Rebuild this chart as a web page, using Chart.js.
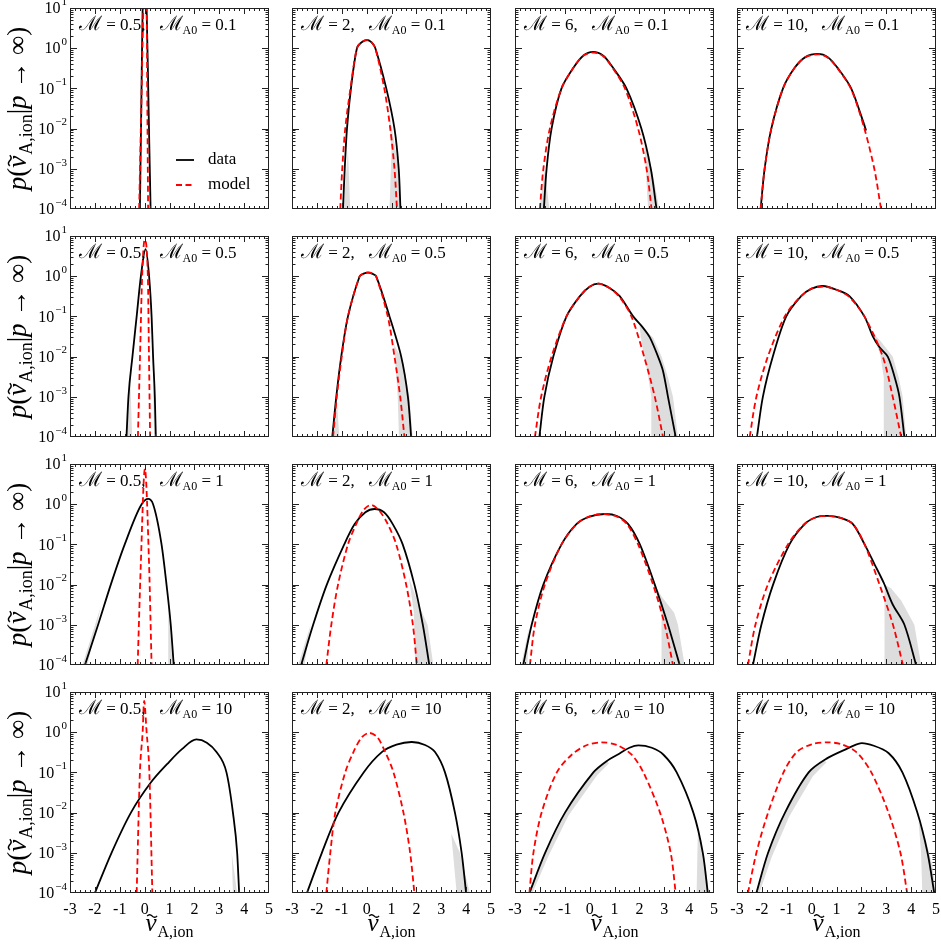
<!DOCTYPE html>
<html lang="en">
<head>
    <meta charset="UTF-8">
    <title>p(v_A,ion | p → ∞)</title>
    <script src="https://cdn.jsdelivr.net/npm/chart.js@4"></script>
    <style>
        body { margin: 0; background: #fff; }
        #grid { position: relative; width: 941px; height: 944px; }
        #grid canvas { position: absolute; }
    </style>
</head>
<body>
    <div id="grid"></div>

    <script>
        // panel labels
        const machs = ['0.5', '2', '6', '10'];
        const alfvenMachs = ['0.1', '0.5', '1', '10'];
        const xTicks = [-3, -2, -1, 0, 1, 2, 3, 4, 5];
        const yDecades = [-4, -3, -2, -1, 0, 1];

        // M_A0 = 0.1
        const data_05_01 = [[-0.19,1e-4],[-0.135,0.03],[-0.08,10],[0.0,40],[0.08,10],[0.16,0.03],[0.24,1e-4]];
        const model_05_01 = [[-0.22,1e-4],[-0.135,0.03],[-0.05,10],[0.01,40],[0.08,10],[0.11,0.03],[0.14,1e-4]];
        const band_05_01 = [];
        const data_2_01 = [[-0.95,1e-4],[-0.88,1e-3],[-0.79,1e-2],[-0.63,0.1],[-0.39,1],[-0.2,1.4],[0.02,1.6],[0.2,1.4],[0.35,1],[0.79,0.1],[1.12,1e-2],[1.29,1e-3],[1.36,1e-4]];
        const model_2_01 = [[-1.06,1e-4],[-0.98,1e-3],[-0.86,1e-2],[-0.65,0.1],[-0.39,1],[-0.2,1.42],[0.02,1.62],[0.2,1.4],[0.35,1],[0.71,0.1],[0.95,1e-2],[1.12,1e-3],[1.22,1e-4]];
        const band_2_01 = [[[-0.93,1e-4],[-0.75,3e-3],[-0.66,1e-4]], [[0.85,0.04],[1.1,5e-3],[1.3,1e-3],[1.32,1e-4],[0.92,1e-4],[1.0,3e-3]]];
        const data_6_01 = [[-1.84,1e-4],[-1.73,1e-3],[-1.53,1e-2],[-1.13,0.1],[-0.66,0.32],[-0.26,0.65],[0.14,0.81],[0.55,0.65],[0.95,0.32],[1.48,0.1],[2.08,1e-2],[2.46,1e-3],[2.69,1e-4]];
        const model_6_01 = [[-2.0,1e-4],[-1.86,1e-3],[-1.6,1e-2],[-1.13,0.1],[-0.66,0.32],[-0.26,0.65],[0.18,0.78],[0.55,0.63],[0.93,0.32],[1.42,0.1],[1.95,1e-2],[2.29,1e-3],[2.49,1e-4]];
        const band_6_01 = [[[-2.02,1e-4],[-1.8,1e-3],[-1.62,1e-4]], [[2.2,4e-3],[2.5,1e-3],[2.8,1e-4],[2.35,1e-4]]];
        const data_10_01 = [[-2.05,1e-4],[-1.89,1e-3],[-1.62,1e-2],[-1.15,0.1],[-0.69,0.32],[-0.25,0.6],[0.25,0.72],[0.65,0.6],[1.05,0.32],[1.59,0.1],[2.19,0.009]];
        const model_10_01 = [[-2.05,1e-4],[-1.89,1e-3],[-1.62,1e-2],[-1.15,0.1],[-0.69,0.32],[-0.25,0.6],[0.3,0.7],[0.65,0.58],[1.05,0.31],[1.59,0.095],[2.12,1e-2],[2.52,1e-3],[2.79,1e-4]];
        const band_10_01 = [[[1.9,0.03],[2.2,0.012],[2.15,0.01]]];

        // M_A0 = 0.5
        const data_05_05 = [[-0.73,1e-4],[-0.65,1e-3],[-0.49,1e-2],[-0.32,0.1],[-0.15,1],[0.04,4.7],[0.18,1],[0.28,0.1],[0.34,1e-2],[0.41,1e-3],[0.45,1e-4]];
        const model_05_05 = [[-0.27,1e-4],[-0.185,1e-2],[-0.1,1],[0.0,8],[0.13,1],[0.175,1e-2],[0.22,1e-4]];
        const band_05_05 = [[[-0.76,1e-4],[-0.58,3e-3],[-0.5,1e-4]], [[0.33,3e-3],[0.48,1e-4],[0.38,1e-4]]];
        const data_2_05 = [[-1.38,1e-4],[-1.22,1e-3],[-1.02,1e-2],[-0.75,0.1],[-0.28,1],[-0.12,1.16],[0.05,1.23],[0.22,1.16],[0.38,1],[0.92,0.1],[1.39,1e-2],[1.66,1e-3],[1.79,1e-4]];
        const model_2_05 = [[-1.35,1e-4],[-1.2,1e-3],[-1.0,1e-2],[-0.75,0.1],[-0.28,1],[-0.1,1.18],[0.07,1.25],[0.23,1.17],[0.38,1],[0.85,0.1],[1.12,1e-2],[1.35,1e-3],[1.52,1e-4]];
        const band_2_05 = [[[-1.42,1e-4],[-1.2,1e-3],[-1.1,1e-4]], [[1.1,2e-2],[1.45,8e-3],[1.72,1e-3],[1.85,1e-4],[1.3,1e-4],[1.25,1e-3]]];
        const data_6_05 = [[-2.02,1e-4],[-1.82,1e-3],[-1.46,1e-2],[-0.93,0.1],[-0.39,0.32],[0.0,0.55],[0.37,0.65],[0.8,0.51],[1.21,0.32],[1.75,0.1],[2.15,0.052],[2.42,0.03],[2.75,1e-2],[2.95,4.4e-3],[3.15,1e-3],[3.46,1e-4]];
        const model_6_05 = [[-2.2,1e-4],[-1.95,1e-3],[-1.53,1e-2],[-0.93,0.1],[-0.39,0.32],[0.0,0.55],[0.37,0.65],[0.8,0.51],[1.21,0.3],[1.68,0.1],[2.19,1e-2],[2.62,1e-3],[2.95,1e-4]];
        const band_6_05 = [[[2.0,0.06],[2.55,0.03],[2.89,1e-2],[3.15,3e-3],[3.35,1e-3],[3.55,1e-4],[2.48,1e-4],[2.48,1e-3],[2.3,5e-3],[2.1,0.02]]];
        const data_10_05 = [[-2.2,1e-4],[-1.96,1e-3],[-1.56,1e-2],[-1.02,0.1],[-0.42,0.32],[0.0,0.49],[0.45,0.57],[1.0,0.46],[1.52,0.32],[2.12,0.1],[2.46,0.032],[2.73,0.017],[3.06,1e-2],[3.33,3.2e-3],[3.53,1e-3],[3.73,1e-4]];
        const model_10_05 = [[-2.49,1e-4],[-2.22,1e-3],[-1.76,1e-2],[-1.08,0.1],[-0.45,0.31],[0.0,0.49],[0.5,0.55],[1.0,0.46],[1.5,0.31],[2.12,0.1],[2.86,1e-2],[3.26,1e-3],[3.6,1e-4]];
        const band_10_05 = [[[2.35,0.045],[2.75,0.025],[3.26,1e-2],[3.5,3e-3],[3.66,1e-3],[3.8,1e-4],[2.88,1e-4],[2.9,3e-3],[2.75,1.2e-2],[2.5,0.028]]];

        // M_A0 = 1
        const data_05_1 = [[-2.4,1e-4],[-1.87,1e-3],[-1.36,1e-2],[-0.8,0.1],[-0.12,1],[0.14,1.35],[0.34,1],[0.68,0.1],[0.88,1e-2],[1.05,1e-3],[1.17,1e-4]];
        const model_05_1 = [[-0.28,1e-4],[-0.155,0.03],[0.01,7.5],[0.18,0.03],[0.28,1e-4]];
        const band_05_1 = [[[-2.5,1e-4],[-1.95,1.2e-3],[-1.75,3e-3],[-1.92,1e-3],[-2.3,1e-4]], [[0.95,3e-3],[1.13,1e-4],[0.95,1e-4]]];
        const data_2_1 = [[-2.63,1e-4],[-2.15,1e-3],[-1.6,1e-2],[-0.9,0.1],[-0.48,0.32],[-0.05,0.63],[0.32,0.76],[0.7,0.63],[1.05,0.32],[1.45,0.1],[1.92,1e-2],[2.26,1e-3],[2.52,1e-4]];
        const model_2_1 = [[-1.62,1e-4],[-1.42,1e-3],[-1.15,1e-2],[-0.75,0.1],[-0.42,0.32],[-0.12,0.72],[0.18,0.96],[0.5,0.7],[0.85,0.32],[1.19,0.1],[1.59,1e-2],[1.86,1e-3],[2.02,1e-4]];
        const band_2_1 = [[[-2.75,1e-4],[-2.25,1e-3],[-2.5,1e-4]], [[1.7,1.5e-2],[2.1,3e-3],[2.45,1e-3],[2.68,1e-4],[1.95,1e-4],[1.9,2e-3]]];
        const data_6_1 = [[-2.67,1e-4],[-2.33,1e-3],[-1.86,1e-2],[-1.13,0.1],[-0.53,0.32],[0.0,0.49],[0.61,0.57],[1.1,0.51],[1.55,0.32],[2.02,0.1],[2.62,1e-2],[3.15,1e-3],[3.62,1e-4]];
        const model_6_1 = [[-2.4,1e-4],[-2.2,1e-3],[-1.8,1e-2],[-1.13,0.1],[-0.5,0.33],[0.0,0.5],[0.55,0.57],[1.1,0.49],[1.5,0.32],[1.95,0.1],[2.55,1e-2],[3.02,1e-3],[3.35,1e-4]];
        const band_6_1 = [[[-2.75,1e-4],[-2.45,8e-4],[-2.5,1e-4]], [[2.45,0.015],[2.9,5e-3],[3.4,2e-3],[3.55,1e-3],[3.82,1e-4],[2.89,1e-4],[2.89,2e-3],[2.7,6e-3]]];
        const data_10_1 = [[-2.36,1e-4],[-2.02,1e-3],[-1.55,1e-2],[-0.89,0.1],[-0.28,0.32],[0.2,0.48],[0.68,0.51],[1.2,0.45],[1.66,0.32],[2.13,0.1],[2.53,0.032],[2.9,0.011],[3.26,3.2e-3],[3.73,1e-3],[4.2,1e-4]];
        const model_10_1 = [[-2.56,1e-4],[-2.26,1e-3],[-1.76,1e-2],[-0.95,0.1],[-0.3,0.32],[0.2,0.48],[0.68,0.51],[1.2,0.45],[1.66,0.32],[2.13,0.1],[2.73,1e-2],[3.27,1e-3],[3.67,1e-4]];
        const band_10_1 = [[[2.93,0.01],[3.2,0.008],[3.6,4e-3],[4.13,1e-3],[4.4,1e-4],[2.93,1e-4]]];

        // M_A0 = 10
        const data_05_10 = [[-2.0,1e-4],[-1.33,1e-3],[-0.55,1e-2],[0.25,0.056],[0.9,0.16],[1.5,0.38],[2.08,0.66],[2.5,0.55],[2.89,0.32],[3.29,0.1],[3.55,1e-2],[3.72,1e-3],[3.8,1e-4]];
        const model_05_10 = [[-0.32,1e-4],[-0.19,0.1],[-0.08,1],[-0.02,6],[0.08,1],[0.19,0.1],[0.31,1e-4]];
        const band_05_10 = [[[3.5,1e-3],[3.72,1e-4],[3.55,1e-4]]];
        const data_2_10 = [[-2.4,1e-4],[-1.8,1e-3],[-1.13,1e-2],[-0.12,0.1],[0.61,0.32],[1.2,0.49],[1.82,0.57],[2.35,0.48],[2.75,0.32],[3.15,0.1],[3.55,1e-2],[3.82,1e-3],[4.0,1e-4]];
        const model_2_10 = [[-1.62,1e-4],[-1.46,1e-3],[-1.26,1e-2],[-0.86,0.1],[-0.53,0.32],[-0.2,0.74],[0.1,0.96],[0.43,0.75],[0.75,0.32],[1.08,0.1],[1.48,1e-2],[1.75,1e-3],[1.92,1e-4]];
        const band_2_10 = [[[3.4,3e-3],[3.75,1e-3],[4.15,1e-4],[3.62,1e-4]]];
        const data_6_10 = [[-2.42,1e-4],[-1.79,1e-3],[-0.99,1e-2],[0.15,0.1],[0.68,0.19],[1.22,0.3],[1.6,0.41],[1.96,0.47],[2.5,0.41],[2.97,0.275],[3.5,0.1],[4.17,1e-2],[4.55,1e-3],[4.75,1e-4]];
        const model_6_10 = [[-2.42,1e-4],[-2.26,1e-3],[-1.93,1e-2],[-1.32,0.1],[-0.72,0.275],[-0.1,0.48],[0.49,0.56],[1.1,0.48],[1.69,0.275],[2.16,0.1],[2.83,1e-2],[3.26,1e-3],[3.46,1e-4]];
        const band_6_10 = [[[-2.42,1e-4],[-1.79,1e-3],[-0.99,1e-2],[0.15,0.1],[0.7,0.19],[0.78,0.17],[0.3,0.085],[-0.85,8.5e-3],[-1.65,8.5e-4],[-2.3,1e-4]], [[4.35,3e-3],[4.6,8e-4],[4.8,1e-4],[4.3,1e-4]]];
        const data_10_10 = [[-2.22,1e-4],[-1.75,1e-3],[-1.07,1e-2],[-0.12,0.1],[0.6,0.22],[1.39,0.38],[1.95,0.53],[2.5,0.46],[3.1,0.3],[3.65,0.1],[4.25,1e-2],[4.66,1e-3],[4.93,1e-4]];
        const model_10_10 = [[-2.56,1e-4],[-2.22,1e-3],[-1.75,1e-2],[-1.13,0.1],[-0.6,0.32],[0.0,0.5],[0.64,0.56],[1.2,0.5],[1.8,0.32],[2.4,0.1],[3.09,1e-2],[3.57,1e-3],[3.84,1e-4]];
        const band_10_10 = [[[-2.22,1e-4],[-1.75,1e-3],[-1.07,1e-2],[-0.12,0.1],[0.5,0.2],[0.6,0.18],[0.05,0.08],[-0.9,8e-3],[-1.6,8e-4],[-2.1,1e-4]], [[4.3,6e-3],[4.6,2e-3],[4.85,5e-4],[5.0,1e-4],[4.45,1e-4],[4.4,1e-3]]];

        // rows = M_A0, columns = M
        const panels = [
            [[data_05_01, model_05_01, band_05_01], [data_2_01, model_2_01, band_2_01], [data_6_01, model_6_01, band_6_01], [data_10_01, model_10_01, band_10_01]],
            [[data_05_05, model_05_05, band_05_05], [data_2_05, model_2_05, band_2_05], [data_6_05, model_6_05, band_6_05], [data_10_05, model_10_05, band_10_05]],
            [[data_05_1, model_05_1, band_05_1], [data_2_1, model_2_1, band_2_1], [data_6_1, model_6_1, band_6_1], [data_10_1, model_10_1, band_10_1]],
            [[data_05_10, model_05_10, band_05_10], [data_2_10, model_2_10, band_2_10], [data_6_10, model_6_10, band_6_10], [data_10_10, model_10_10, band_10_10]]
        ];

        const SERIF = "'Liberation Serif', 'DejaVu Serif', serif";
        const colLeft = [70, 292, 515, 737];
        const rowTop = [8, 236, 464, 692];
        const W = 199, H = 201;
        const PAD = { l: 72, t: 10, r: 10, b: 50 };

        function setFont(ctx, size, italic) {
            ctx.font = (italic ? 'italic ' : '') + size + 'px ' + SERIF;
        }

        // small wavy accent drawn over a letter
        function tilde(ctx, cx, cy, size) {
            const hw = size * 0.2, amp = size * 0.05;
            ctx.save();
            ctx.lineWidth = Math.max(1, size * 0.055);
            ctx.strokeStyle = '#000';
            ctx.beginPath();
            for (let i = 0; i <= 16; i++) {
                const t = i / 16;
                const px = cx - hw + 2 * hw * t, py = cy - amp * Math.sin(2 * Math.PI * t);
                i ? ctx.lineTo(px, py) : ctx.moveTo(px, py);
            }
            ctx.stroke();
            ctx.restore();
        }

        // draws a list of text pieces one after another, returns total width
        function drawRuns(ctx, runs, x, y, dry) {
            let cx = x;
            for (const r of runs) {
                setFont(ctx, r.size, r.italic);
                const w = ctx.measureText(r.t).width;
                if (!dry) {
                    ctx.textAlign = 'left';
                    ctx.fillText(r.t, cx, y + (r.dy || 0));
                    if (r.tilde) tilde(ctx, cx + w * 0.6, y - r.size * 0.6, r.size);
                }
                cx += w + (r.gap || 0);
            }
            return cx - x;
        }

        const vRuns = (big, small) => [
            { t: 'v', size: big, italic: true, tilde: true, gap: 1 },
            { t: 'A,ion', size: small, dy: big * 0.22 }
        ];

        const axesPlugin = {
            id: 'axesFrame',
            afterDatasetsDraw(chart, args, opts) {
                const { ctx, chartArea: a } = chart;
                const x = chart.scales.x, y = chart.scales.y;
                ctx.save();
                ctx.fillStyle = '#000';
                ctx.strokeStyle = '#222';
                ctx.lineWidth = 1;
                ctx.setLineDash([]);
                ctx.strokeRect(a.left + 0.5, a.top + 0.5, a.right - a.left - 1, a.bottom - a.top - 1);

                // inward ticks, minor every 0.2 on x and 2..9 on y
                ctx.beginPath();
                for (let i = 1; i < 40; i++) {
                    const px = Math.round(x.getPixelForValue(-3 + i * 0.2)) + 0.5;
                    const len = i % 5 === 0 ? 6 : 3;
                    ctx.moveTo(px, a.bottom); ctx.lineTo(px, a.bottom - len);
                    ctx.moveTo(px, a.top); ctx.lineTo(px, a.top + len);
                }
                yDecades.forEach(e => {
                    for (let k = 1; k <= 9; k++) {
                        const val = k * Math.pow(10, e);
                        if (val > 10 || (e === -4 && k === 1)) continue;
                        const py = Math.round(y.getPixelForValue(val)) + 0.5;
                        const len = k === 1 ? 7 : 3.5;
                        ctx.moveTo(a.left, py); ctx.lineTo(a.left + len, py);
                        ctx.moveTo(a.right, py); ctx.lineTo(a.right - len, py);
                    }
                });
                ctx.stroke();

                // panel annotation
                ctx.textBaseline = 'alphabetic';
                const w1 = drawRuns(ctx, [
                    { t: 'ℳ', size: 20 },
                    { t: ' = ' + opts.mach + ',', size: 17 }
                ], a.left + 9, a.top + 22);
                drawRuns(ctx, [
                    { t: 'ℳ', size: 20 },
                    { t: 'A0', size: 12, dy: 4 },
                    { t: ' = ' + opts.ma0, size: 17 }
                ], a.left + 9 + w1 + 14, a.top + 22);

                if (opts.legend) {
                    const lx = a.left + 106, ly1 = a.top + 152, ly2 = a.top + 177;
                    ctx.lineWidth = 1.8;
                    ctx.strokeStyle = '#000';
                    ctx.beginPath(); ctx.moveTo(lx, ly1); ctx.lineTo(lx + 18, ly1); ctx.stroke();
                    ctx.strokeStyle = '#ff0000';
                    ctx.setLineDash([6, 3.5]);
                    ctx.beginPath(); ctx.moveTo(lx, ly2); ctx.lineTo(lx + 18, ly2); ctx.stroke();
                    ctx.setLineDash([]);
                    setFont(ctx, 17, false);
                    ctx.textBaseline = 'middle';
                    ctx.fillText('data', lx + 32, ly1);
                    ctx.fillText('model', lx + 32, ly2);
                }

                if (opts.row === 3) {
                    setFont(ctx, 16, false);
                    ctx.textAlign = 'center';
                    ctx.textBaseline = 'alphabetic';
                    xTicks.forEach(v => ctx.fillText(String(v), x.getPixelForValue(v), a.bottom + 21));
                    const runs = vRuns(25, 16);
                    const tw = drawRuns(ctx, runs, 0, 0, true);
                    drawRuns(ctx, runs, (a.left + a.right) / 2 - tw / 2, a.bottom + 38);
                }

                if (opts.col === 0) {
                    ctx.textBaseline = 'middle';
                    yDecades.forEach(e => {
                        const py = y.getPixelForValue(Math.pow(10, e));
                        const ex = e < 0 ? '−' + (-e) : String(e);
                        setFont(ctx, 11, false);
                        const we = ctx.measureText(ex).width;
                        ctx.textAlign = 'left';
                        ctx.fillText(ex, a.left - 3 - we, py - 6);
                        setFont(ctx, 16, false);
                        ctx.textAlign = 'right';
                        ctx.fillText('10', a.left - 4 - we, py + 1);
                    });

                    // rotated y title
                    ctx.textBaseline = 'alphabetic';
                    const runs = [
                        { t: 'p', size: 27, italic: true },
                        { t: '(', size: 27 },
                        ...vRuns(27, 18),
                        { t: '|', size: 27 },
                        { t: 'p', size: 27, italic: true },
                        { t: ' → ∞)', size: 27 }
                    ];
                    const tw = drawRuns(ctx, runs, 0, 0, true);
                    ctx.translate(a.left - 44, (a.top + a.bottom) / 2);
                    ctx.rotate(-Math.PI / 2);
                    drawRuns(ctx, runs, -tw / 2, 0);
                }
                ctx.restore();
            }
        };

        const grid = document.getElementById('grid');

        panels.forEach((rowPanels, r) => {
            rowPanels.forEach(([data, model, bands], c) => {
                const canvas = document.createElement('canvas');
                const cw = PAD.l + W + PAD.r, ch = PAD.t + H + PAD.b;
                canvas.width = cw; canvas.height = ch;
                canvas.style.width = cw + 'px';
                canvas.style.height = ch + 'px';
                canvas.style.left = (colLeft[c] - PAD.l) + 'px';
                canvas.style.top = (rowTop[r] - PAD.t) + 'px';
                grid.appendChild(canvas);

                // narrow spikes in the first column keep monotone joins, broad curves get a soft spline
                const curve = c === 0
                    ? { cubicInterpolationMode: 'monotone' }
                    : { cubicInterpolationMode: 'default', tension: 0.3 };
                const toXY = pts => pts.map(([x, y]) => ({ x, y }));
                const datasets = [
                    {
                        label: 'model', data: toXY(model), borderColor: '#ff0000', borderWidth: 1.8,
                        borderDash: [6, 3.5], pointRadius: 0, fill: false, clip: 0, ...curve
                    },
                    {
                        label: 'data', data: toXY(data), borderColor: '#000', borderWidth: 1.8,
                        pointRadius: 0, fill: false, clip: 0, ...curve
                    }
                ];
                bands.forEach(b => datasets.push({
                    label: 'range', data: toXY(b), borderWidth: 0, borderColor: 'rgba(0,0,0,0)',
                    backgroundColor: '#dddddd', pointRadius: 0, fill: 'shape', tension: 0, clip: 0
                }));

                new Chart(canvas, {
                    type: 'line',
                    data: { datasets },
                    options: {
                        responsive: false,
                        animation: false,
                        events: [],
                        layout: { padding: { left: PAD.l, top: PAD.t, right: PAD.r, bottom: PAD.b } },
                        scales: {
                            x: { type: 'linear', min: -3, max: 5, display: false },
                            y: { type: 'logarithmic', min: 1e-4, max: 10, display: false }
                        },
                        plugins: {
                            legend: { display: false },
                            tooltip: { enabled: false },
                            axesFrame: { row: r, col: c, mach: machs[c], ma0: alfvenMachs[r], legend: r === 0 && c === 0 }
                        }
                    },
                    plugins: [axesPlugin]
                });
            });
        });
    </script>
</body>
</html>
